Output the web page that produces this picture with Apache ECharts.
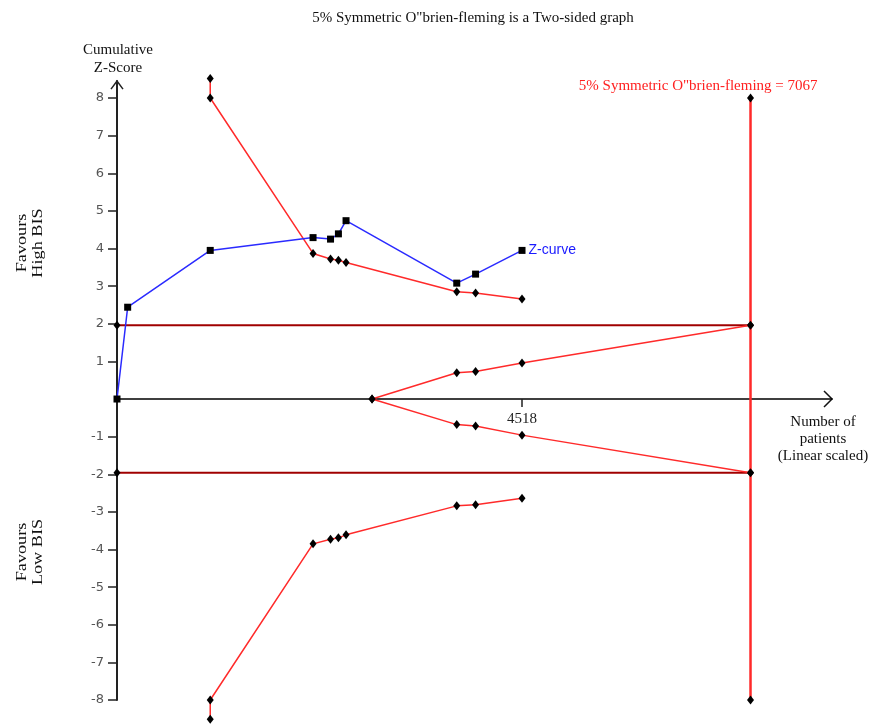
<!DOCTYPE html>
<html>
<head>
<meta charset="utf-8">
<script src="https://cdn.jsdelivr.net/npm/echarts@6/dist/echarts.min.js"></script>
<style>
  html, body { margin: 0; padding: 0; background: #ffffff; }
  #chart { width: 877px; height: 726px; }
</style>
</head>
<body>
<div id="chart"></div>
<script>
// Cumulative number of patients at each interim look
const patients = [119, 1040, 2187, 2382, 2470, 2555, 3790, 4000, 4518];
// Cumulative Z-score after each trial
const zCurve = [2.44, 3.95, 4.29, 4.25, 4.39, 4.74, 3.08, 3.32, 3.95];

// O'Brien-Fleming monitoring boundaries (from the 2nd look on; the first value is capped at 8)
const obfUpperTop = 8.52;
const obfUpper = [8, 3.87, 3.72, 3.69, 3.63, 2.85, 2.82, 2.66];
const obfLowerBottom = -8.51;
const obfLower = [-8, -3.85, -3.73, -3.69, -3.61, -2.84, -2.81, -2.64];

// Inner wedge (futility) boundaries
const wedgeStart = 2845;
const wedgePatients = [3790, 4000, 4518];
const wedgeUpper = [0.70, 0.73, 0.96];
const wedgeLower = [-0.68, -0.72, -0.96];

// Required information size and conventional significance level
const requiredSize = 7067;
const conventionalZ = 1.96;
const risCap = 8;

// Axis ranges and tick labels
const xMax = 7976;
const yMin = -8;
const yMax = 8.45;
const yTicks = [-8, -7, -6, -5, -4, -3, -2, -1, 1, 2, 3, 4, 5, 6, 7, 8];
const xTickLabel = '4518';
const xTickValue = 4518;

const SERIF = '"Liberation Serif", "Times New Roman", serif';
const SANS = '"Liberation Sans", Arial, sans-serif';
const TICKFONT = 'DejaVu Sans';

const RED = '#ff2a2a';
const DARKRED = '#a00000';
const BLUE = '#2a2aff';

const zData = [[0, 0]].concat(patients.map((p, i) => [p, zCurve[i]]));
const upperData = [[patients[1], obfUpperTop]].concat(patients.slice(1).map((p, i) => [p, obfUpper[i]]));
const lowerData = [[patients[1], obfLowerBottom]].concat(patients.slice(1).map((p, i) => [p, obfLower[i]]));
const wedgeUpData = [[wedgeStart, 0]].concat(wedgePatients.map((p, i) => [p, wedgeUpper[i]]), [[requiredSize, conventionalZ]]);
const wedgeLoData = [[wedgeStart, 0]].concat(wedgePatients.map((p, i) => [p, wedgeLower[i]]), [[requiredSize, -conventionalZ]]);

const diamond = { symbol: 'diamond', symbolSize: [7, 9], itemStyle: { color: '#000' } };

function boundary(data, color, width, z) {
  return Object.assign({
    type: 'line', data: data, clip: false, z: z, animation: false,
    lineStyle: { color: color, width: width }
  }, diamond);
}

const chart = echarts.init(document.getElementById('chart'), null, { renderer: 'canvas' });

const option = {
  animation: false,
  backgroundColor: '#ffffff',
  title: {
    text: '5% Symmetric O"brien-fleming is a Two-sided graph',
    left: 468, top: 6, textAlign: 'center',
    textStyle: { fontFamily: SERIF, fontSize: 15, fontWeight: 'normal', color: '#111' }
  },
  grid: { left: 117, right: 45, top: 81.1, height: 618.9, containLabel: false },
  xAxis: {
    type: 'value', min: 0, max: xMax,
    splitLine: { show: false },
    axisLine: { show: true, onZero: true, lineStyle: { color: '#000', width: 1.5 } },
    axisTick: { show: true, customValues: [xTickValue], length: 8, inside: false, lineStyle: { color: '#222', width: 1.5 } },
    axisLabel: { show: false }
  },
  yAxis: {
    type: 'value', min: yMin, max: yMax, interval: 1,
    splitLine: { show: false },
    axisLine: { show: true, onZero: false, lineStyle: { color: '#222', width: 2 } },
    axisTick: { show: true, customValues: yTicks, length: 9, lineStyle: { color: '#222', width: 1.5 } },
    axisLabel: {
      show: true, margin: 13,
      formatter: v => (v === 0 || v > 8 ? '' : String(v)),
      fontFamily: TICKFONT, fontSize: 13, color: '#555'
    }
  },
  series: [
    // Conventional two-sided 5% boundaries
    boundary([[0, conventionalZ], [requiredSize, conventionalZ]], DARKRED, 2, 2),
    boundary([[0, -conventionalZ], [requiredSize, -conventionalZ]], DARKRED, 2, 2),
    // Required information size
    boundary([[requiredSize, risCap], [requiredSize, -risCap]], RED, 2.5, 3),
    // Monitoring boundaries
    boundary(upperData, RED, 1.5, 4),
    boundary(lowerData, RED, 1.5, 4),
    // Futility wedge
    boundary(wedgeUpData, RED, 1.5, 4),
    boundary(wedgeLoData, RED, 1.5, 4),
    // Cumulative Z-curve
    {
      type: 'line', data: zData, clip: false, z: 6,
      symbol: 'rect', symbolSize: 7,
      itemStyle: { color: '#000' },
      lineStyle: { color: BLUE, width: 1.5 },
      label: {
        show: true, position: 'right', distance: 3,
        formatter: p => p.dataIndex === zData.length - 1 ? 'Z-curve' : '',
        fontFamily: SANS, fontSize: 14, color: '#1a1aff'
      }
    }
  ]
};

chart.setOption(option);

// Open chevron arrowheads at the ends of both axes, plus axis captions
const yTip = chart.convertToPixel({ gridIndex: 0 }, [0, yMax]);
const xTip = chart.convertToPixel({ gridIndex: 0 }, [xMax, 0]);
const risTop = chart.convertToPixel({ gridIndex: 0 }, [requiredSize, risCap]);
const xTickPos = chart.convertToPixel({ gridIndex: 0 }, [xTickValue, 0]);

chart.setOption({
  graphic: [
    {
      type: 'polyline', silent: true,
      shape: { points: [[yTip[0] - 6, yTip[1] + 8], [yTip[0], yTip[1]], [yTip[0] + 6, yTip[1] + 8]] },
      style: { stroke: '#222', lineWidth: 1.5, fill: null }
    },
    {
      type: 'polyline', silent: true,
      shape: { points: [[xTip[0] - 8, xTip[1] - 8], [xTip[0], xTip[1]], [xTip[0] - 8, xTip[1] + 8]] },
      style: { stroke: '#111', lineWidth: 1.5, fill: null }
    },
    {
      type: 'text', silent: true, x: xTickPos[0], y: xTickPos[1] + 20,
      style: { text: xTickLabel, align: 'center', verticalAlign: 'middle', font: '15px ' + SERIF, fill: '#222' }
    },
    {
      type: 'text', silent: true, x: 118, y: 59,
      style: { text: 'Cumulative\nZ-Score', align: 'center', verticalAlign: 'middle', font: '15px ' + SERIF, fill: '#111', lineHeight: 18 }
    },
    {
      type: 'text', silent: true, x: 823, y: 439,
      style: { text: 'Number of\npatients\n(Linear scaled)', align: 'center', verticalAlign: 'middle', font: '15px ' + SERIF, fill: '#111', lineHeight: 17 }
    },
    {
      type: 'text', silent: true, x: risTop[0] + 67, y: risTop[1] - 12,
      style: { text: '5% Symmetric O"brien-fleming = 7067', align: 'right', verticalAlign: 'middle', font: '15px ' + SERIF, fill: '#ff2020' }
    },
    {
      type: 'text', silent: true, x: 30, y: 243, rotation: Math.PI / 2, scaleX: 1.3,
      style: { text: 'Favours\nHigh BIS', align: 'center', verticalAlign: 'middle', font: '14px ' + SERIF, fill: '#111', lineHeight: 16 }
    },
    {
      type: 'text', silent: true, x: 30, y: 552, rotation: Math.PI / 2, scaleX: 1.3,
      style: { text: 'Favours\nLow BIS', align: 'center', verticalAlign: 'middle', font: '14px ' + SERIF, fill: '#111', lineHeight: 16 }
    }
  ]
});
</script>
</body>
</html>
